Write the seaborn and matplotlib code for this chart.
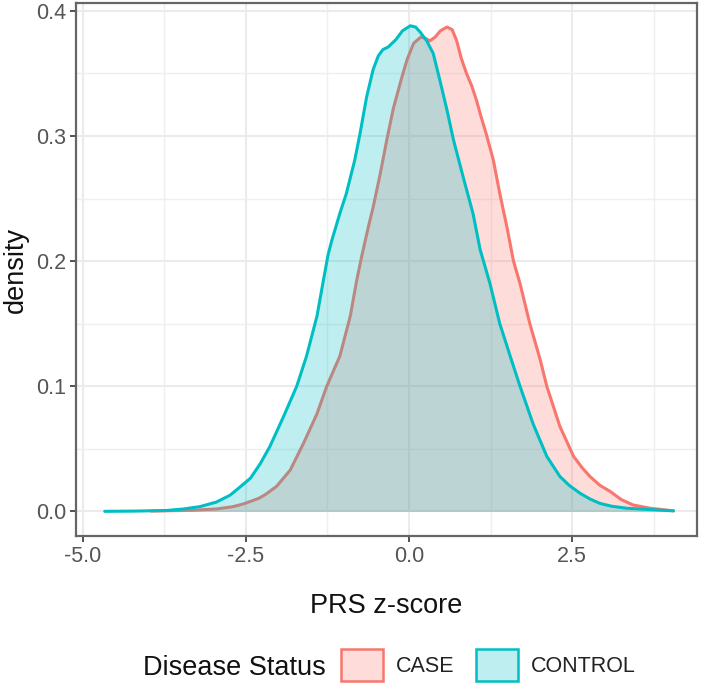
import numpy as np
import pandas as pd
import matplotlib
matplotlib.use("Agg")
import matplotlib.pyplot as plt
import seaborn as sns
from matplotlib.patches import Patch
from matplotlib.colors import to_rgba
from matplotlib.ticker import MultipleLocator, FormatStrFormatter

# ---- data (density curves) ----
CASE_X = [-3.95, -3.66, -3.30, -2.95, -2.70, -2.55, -2.43, -2.30, -2.20, -2.03, -1.82, -1.62, -1.41,
          -1.26, -1.06, -0.90, -0.80, -0.72, -0.62, -0.55, -0.44, -0.34, -0.24, -0.12,
          -0.03, 0.07, 0.18, 0.25, 0.32, 0.40, 0.48, 0.58, 0.66, 0.73, 0.80, 0.88, 0.96,
          1.03, 1.10, 1.18, 1.29, 1.39, 1.50, 1.60, 1.70, 1.85, 2.01, 2.11, 2.31, 2.52,
          2.65, 2.77, 2.92, 3.08, 3.25, 3.43, 3.69, 4.05]
CASE_D = [0.0003, 0.0006, 0.0010, 0.0020, 0.0038, 0.0058, 0.0080, 0.0105, 0.0135, 0.020, 0.033, 0.054, 0.078,
          0.100, 0.124, 0.156, 0.185, 0.205, 0.228, 0.243, 0.270, 0.297, 0.322, 0.345,
          0.361, 0.374, 0.379, 0.378, 0.376, 0.379, 0.384, 0.387, 0.385, 0.376, 0.362, 0.350, 0.340,
          0.329, 0.316, 0.302, 0.281, 0.254, 0.227, 0.200, 0.182, 0.150, 0.121, 0.100, 0.068, 0.044,
          0.035, 0.028, 0.021, 0.016, 0.0095, 0.0052, 0.0026, 0.0005]

CONTROL_X = [-4.66, -4.20, -3.71, -3.45, -3.20, -2.95, -2.74, -2.60, -2.43, -2.28, -2.13, -1.92, -1.72, -1.57,
             -1.41, -1.31, -1.24, -1.18, -1.06, -0.96, -0.83, -0.75, -0.65, -0.55, -0.47,
             -0.40, -0.32, -0.20, -0.10, 0.02, 0.10, 0.17, 0.27, 0.37, 0.47, 0.58, 0.68,
             0.83, 0.98, 1.09, 1.24, 1.39, 1.55, 1.70, 1.90, 2.11, 2.31, 2.45, 2.62, 2.77, 2.92,
             3.10, 3.33, 3.69, 4.05]
CONTROL_D = [0.0001, 0.0003, 0.0008, 0.0020, 0.0039, 0.0075, 0.013, 0.019, 0.0265, 0.038, 0.052, 0.076, 0.100, 0.124,
             0.156, 0.185, 0.205, 0.217, 0.238, 0.254, 0.281, 0.302, 0.331, 0.353, 0.364,
             0.369, 0.371, 0.377, 0.384, 0.388, 0.387, 0.383, 0.376, 0.366, 0.345, 0.321, 0.297,
             0.267, 0.238, 0.209, 0.182, 0.150, 0.124, 0.100, 0.070, 0.044, 0.028, 0.021, 0.0145, 0.0100, 0.0065,
             0.0042, 0.0026, 0.0015, 0.0005]

GROUPS = ["CASE", "CONTROL"]
COLORS = ["#F8766D", "#00BFC4"]
X_TICKS = [-5.0, -2.5, 0.0, 2.5]
Y_TICKS = [0.0, 0.1, 0.2, 0.3, 0.4]

df = pd.concat([
    pd.DataFrame({"x": CASE_X, "density": CASE_D, "status": "CASE"}),
    pd.DataFrame({"x": CONTROL_X, "density": CONTROL_D, "status": "CONTROL"}),
], ignore_index=True)

sns.set_theme(style="white")
plt.rcParams['font.family'] = ['Liberation Sans', 'DejaVu Sans']
plt.rcParams['axes.unicode_minus'] = False

W, H = 704, 691
fig = plt.figure(figsize=(W / 100, H / 100), dpi=100)
L, R, T, B = 76, 697, 3, 536
ax = fig.add_axes([L / W, 1 - B / H, (R - L) / W, (B - T) / H])

z = 2
for grp, col in zip(GROUPS, COLORS):
    sub = df[df["status"] == grp]
    ax.fill_between(sub["x"], sub["density"], 0, color=col, alpha=0.25, lw=0, zorder=z)
    sns.lineplot(data=sub, x="x", y="density", color=col, lw=2.2, ax=ax,
                 sort=False, estimator=None, zorder=z + 1)
    z += 2

ax.set_xlim(-5.1, 4.41)
ax.set_ylim(-0.0196, 0.4062)
ax.set_xticks(X_TICKS)
ax.set_yticks(Y_TICKS)
ax.xaxis.set_minor_locator(MultipleLocator(1.25))
ax.yaxis.set_minor_locator(MultipleLocator(0.05))
ax.xaxis.set_major_formatter(FormatStrFormatter('%.1f'))
ax.yaxis.set_major_formatter(FormatStrFormatter('%.1f'))

ax.set_axisbelow(True)
ax.grid(which='major', color='#EBEBEB', lw=1.5)
ax.grid(which='minor', color='#EFEFEF', lw=1.0)
for s in ax.spines.values():
    s.set_color('#666666')
    s.set_linewidth(1.6)

ax.tick_params(which='major', length=4, width=1.2, color='#333333',
               labelcolor='#555555', labelsize=15.5, pad=3,
               bottom=True, left=True)
ax.tick_params(which='minor', length=0)

ax.set_xlabel("PRS z-score", fontsize=19.5, color='#111111', labelpad=19)
ax.set_ylabel("density", fontsize=19.5, color='#111111', labelpad=5)

# legend
fig.text(143 / W, 1 - 675 / H, "Disease Status", fontsize=19.5, color='#111111',
         va='baseline', ha='left')
handles = [Patch(facecolor=to_rgba(c, 0.25), edgecolor=c, lw=1.8) for c in COLORS]
fig.legend(handles, GROUPS, ncol=2, loc='center left',
           bbox_to_anchor=(341 / W, 1 - 665 / H), frameon=False, fontsize=15.5,
           handlelength=1.95, handleheight=1.95, handletextpad=0.6, columnspacing=1.0,
           borderpad=0, borderaxespad=0, labelcolor='#222222')

fig.savefig("out.png", dpi=100)
